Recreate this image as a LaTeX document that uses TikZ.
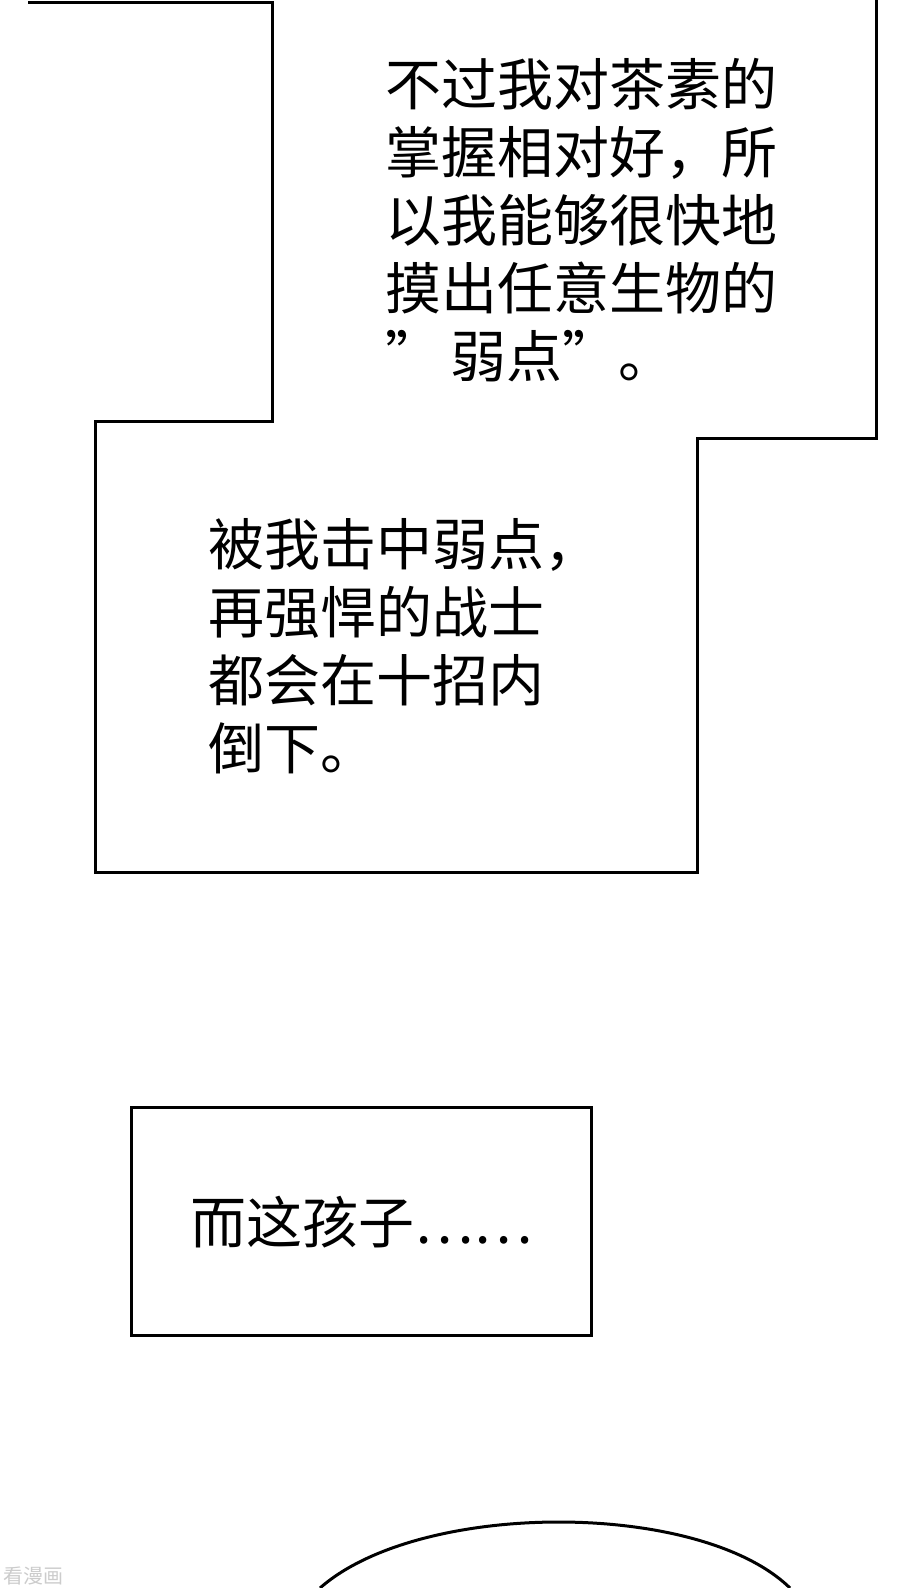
\documentclass[tikz,border=0pt]{standalone}
\usepackage{fontspec}
\newfontfamily\cjk{Noto Sans CJK SC}
\begin{document}
\begin{tikzpicture}[x=1pt,y=-1pt,
    panel/.style={draw,line width=3pt,line join=miter},
    caption/.style={anchor=north west,align=left,inner sep=0pt,font=\cjk\fontsize{56}{68}\selectfont}
]
\useasboundingbox[fill=white] (0,0) rectangle (900,1588);

% Panel borders
\draw[panel] (28,2) -- (272,2) -- (272,421) -- (95,421) -- (95,872) -- (697,872) -- (697,438) -- (876,438) -- (876,0);
\node[panel,minimum width=460pt,minimum height=228pt,anchor=north west] (boxc) at (130,1106) {};
\draw[panel] (320,1588) .. controls (420,1500) and (700,1500) .. (790,1588);

% Captions
\node[caption] (capa) at (385,58) {不过我对茶素的\\掌握相对好，所\\以我能够很快地\\摸出任意生物的\\”\,弱点”。};
\node[caption] (capb) at (208,518) {被我击中弱点，\\再强悍的战士\\都会在十招内\\倒下。};
\node[caption,anchor=west] (capc) at (190,1222) {而这孩子……};

% Watermark
\node[anchor=west,text=gray!40,font=\cjk\fontsize{20}{20}\selectfont] (mark) at (0,1576) {看漫画};
\end{tikzpicture}
\end{document}
